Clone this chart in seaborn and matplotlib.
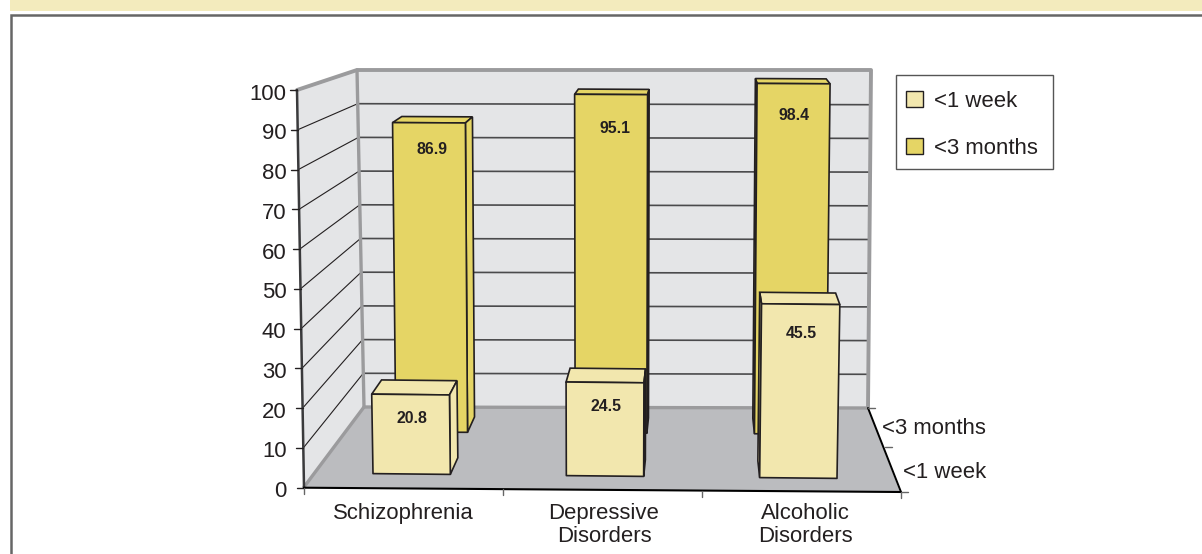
import numpy as np
import pandas as pd
import matplotlib
matplotlib.use("Agg")
import matplotlib.pyplot as plt
from matplotlib.patches import Polygon, Patch
from matplotlib.transforms import Transform
import seaborn as sns

categories = ["Schizophrenia", "Depressive\nDisorders", "Alcoholic\nDisorders"]
week_values = [20.8, 24.5, 45.5]
months_values = [86.9, 95.1, 98.4]
y_ticks = list(range(0, 101, 10))
depth_labels = ["<3 months", "<1 week"]

COLOR_WEEK = "#F2E7AE"
COLOR_MONTHS = "#E5D565"
COLOR_WALL = "#E4E5E7"
COLOR_FLOOR = "#BBBCBF"
COLOR_EDGE = "#9B9B9D"
COLOR_INK = "#231F20"

W, H = 1202, 554
VANISH = (700, -80)
DEPTH = 0.03

sns.set_theme(style="white")
plt.rcParams["font.family"] = ["Liberation Sans", "DejaVu Sans"]
plt.rcParams["text.color"] = COLOR_INK


class Warp(Transform):
    """Slight keystone of the bars, works on display coordinates."""
    input_dims = 2
    output_dims = 2

    def __init__(self, base, keystone, tilt, cx=605):
        super().__init__()
        self.base, self.keystone, self.tilt, self.cx = H - base, keystone, tilt, cx

    def transform_non_affine(self, values):
        x, y = values[:, 0], values[:, 1]
        new_x = x + self.keystone * (x - self.cx) * (y - self.base)
        new_y = y - self.tilt * (x - self.cx)
        return np.column_stack([new_x, new_y])


def axes_px(fig, left, top, right, bottom, zorder):
    return fig.add_axes([left / W, 1 - bottom / H, (right - left) / W, (bottom - top) / H], zorder=zorder)


def recede(p):
    return (p[0] + DEPTH * (VANISH[0] - p[0]), p[1] + DEPTH * (VANISH[1] - p[1]))


def draw_bars(fig, px, values, color, box, warp, label_offsets, zorder):
    ax = axes_px(fig, *box, zorder)
    df = pd.DataFrame({"category": categories, "value": values})
    sns.barplot(data=df, x="category", y="value", color=color, saturation=1, width=0.4,
                edgecolor=COLOR_INK, linewidth=1.2, ax=ax)
    ax.set_xlim(-0.5, 2.5)
    ax.set_ylim(0, 100)
    ax.set_axis_off()

    to_px = ax.transData + warp + px.transData.inverted()
    for bar, offset in zip(ax.patches, label_offsets):
        x0, x1, h = bar.get_x(), bar.get_x() + bar.get_width(), bar.get_height()
        bl, br, tr, tl = to_px.transform([(x0, 0), (x1, 0), (x1, h), (x0, h)])
        faces = [[tl, tr, recede(tr), recede(tl)]]
        if recede(br)[0] > br[0]:
            faces.append([br, tr, recede(tr), recede(br)])
        if recede(bl)[0] < bl[0]:
            faces.append([bl, tl, recede(tl), recede(bl)])
        for pts in faces:
            ax.add_patch(Polygon(pts, closed=True, facecolor=color, edgecolor=COLOR_INK,
                                 linewidth=1.2, transform=px.transData, clip_on=False, zorder=0.9))
        bar.set_transform(ax.transData + warp)
        bar.set_clip_on(False)
        bar.set_joinstyle("round")
        ax.annotate(f"{h:.1f}", (bar.get_x() + bar.get_width() / 2, h), xytext=offset,
                    textcoords="offset pixels", ha="center", va="center",
                    fontsize=11.4, fontweight="bold", color=COLOR_INK)
    return ax


fig = plt.figure(figsize=(W / 100, H / 100), dpi=100)

# page furniture and the 3D box, in image pixels
px = fig.add_axes([0, 0, 1, 1], zorder=0)
px.set_xlim(0, W)
px.set_ylim(H, 0)
px.set_axis_off()
px.add_patch(plt.Rectangle((10, 0), W - 10, 11, color="#F3EBBD", lw=0))
px.plot([11, 11, W], [H, 15, 15], color="#666666", lw=1.8, solid_joinstyle="miter")

px.add_patch(Polygon([(297, 90), (357, 70), (364, 407), (304, 487)], color=COLOR_WALL, lw=0))
px.add_patch(Polygon([(357, 70), (871, 70), (868, 408), (364, 407)], color=COLOR_WALL, lw=0))
px.add_patch(Polygon([(304, 487), (364, 407), (868, 408), (900, 492)], color=COLOR_FLOOR, lw=0))

for tick in y_ticks[1:-1]:
    f = tick / 100
    y_side = 487.7 + (90 - 487.7) * f
    x_side = 304 + (297 - 304) * f
    x_back = 364 + (357 - 364) * f
    x_right = 868 + (871 - 868) * f
    y_back = 407 + (70 - 407) * f
    px.plot([x_side, x_back], [y_side, y_back], color=COLOR_INK, lw=0.8)
    px.plot([x_back, x_right], [y_back, y_back + 1], color="#4A4A4C", lw=1.2)

px.plot([304, 364, 868], [487, 407, 408], color=COLOR_EDGE, lw=2.4)
px.plot([297, 357, 871, 868], [90, 70, 70, 408], color=COLOR_EDGE, lw=2.8)
px.plot([357, 364], [70, 407], color=COLOR_EDGE, lw=2.4)
px.plot([297, 304], [90, 487.7], color="#3A3A3C", lw=1.8)

for tick in y_ticks:
    f = tick / 100
    x_side = 304 + (297 - 304) * f
    y_side = 487.7 + (90 - 487.7) * f
    px.plot([x_side - 7, x_side], [y_side, y_side], color=COLOR_INK, lw=1)

px.plot([304, 901], [487.7, 492], color="#000000", lw=1.5)
px.plot([868, 901], [408, 492], color="#000000", lw=1.4)
for x_tick, y_tick in [(304, 487.7), (503, 489.2), (702, 490.5), (901, 492)]:
    px.plot([x_tick, x_tick], [y_tick, y_tick + 6], color="#666666", lw=1)
for x_tick, y_tick in [(868, 408), (885, 447), (901, 492)]:
    px.plot([x_tick, x_tick + 7], [y_tick, y_tick], color="#666666", lw=1)
px.text(882, 428, depth_labels[0], fontsize=15.9, va="center", ha="left")
px.text(903, 473, depth_labels[1], fontsize=15.9, va="center", ha="left")

# real axes for the tick labels
base = axes_px(fig, 302.5, 91.5, 905.5, 489.2, 1)
base.set_xlim(-0.5, 2.5)
base.set_ylim(0, 100)
base.patch.set_visible(False)
sns.despine(ax=base, left=True, bottom=True)
base.set_xticks(range(len(categories)), categories, fontsize=15.9, linespacing=1.1)
base.set_yticks(y_ticks, [str(t) for t in y_ticks], fontsize=15.9)
base.tick_params(axis="x", length=0, pad=10, colors=COLOR_INK)
base.tick_params(axis="y", length=0, pad=11.5, colors=COLOR_INK)

draw_bars(fig, px, months_values, COLOR_MONTHS, (342, 77, 880, 433), Warp(433, 5e-5, 0.005),
          [(0, -25.5), (4, -34), (4, -33)], 2)
draw_bars(fig, px, week_values, COLOR_WEEK, (315, 94, 895, 476), Warp(476, 7e-5, 0.0103),
          [(0, -22), (1, -24), (3, -31)], 3)

# legend box is drawn apart, its padding differs in x and y
px.add_patch(plt.Rectangle((896, 74.7), 156.7, 94.3, facecolor="white", edgecolor="#555555", lw=1))
handles = [Patch(facecolor=COLOR_WEEK, edgecolor=COLOR_INK, lw=1),
           Patch(facecolor=COLOR_MONTHS, edgecolor=COLOR_INK, lw=1)]
px.legend(handles, ["<1 week", "<3 months"], loc="upper left", bbox_to_anchor=(896, 81),
          bbox_transform=px.transData, borderaxespad=0, fontsize=15.9, frameon=False,
          handlelength=0.77, handleheight=0.77, handletextpad=0.5, labelspacing=1.17, borderpad=0.45)

fig.savefig("out.png", dpi=100)
plt.close(fig)
